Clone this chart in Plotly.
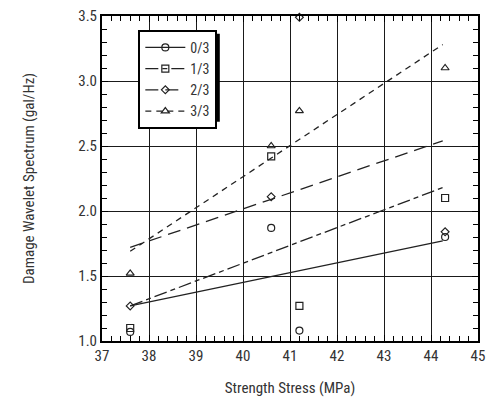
import plotly.graph_objects as go

# ---- data ----
series_names = ["0/3", "1/3", "2/3", "3/3"]
x_points = [37.6, 40.6, 41.2, 44.3]
y_0_3 = [1.07, 1.87, 1.08, 1.80]
y_1_3 = [1.10, 2.42, 1.27, 2.10]
y_2_3 = [1.27, 2.11, 3.49, 1.84]
y_3_3 = [1.52, 2.50, 2.77, 3.10]
fit_x = [37.6, 44.25]
fit_0_3 = [1.27, 1.77]
fit_1_3 = [1.27, 2.18]
fit_2_3 = [1.72, 2.54]
fit_3_3 = [1.69, 3.28]
x_ticks = [37, 38, 39, 40, 41, 42, 43, 44, 45]
y_ticks = [1.0, 1.5, 2.0, 2.5, 3.0, 3.5]

pts = [y_0_3, y_1_3, y_2_3, y_3_3]
fits = [fit_0_3, fit_1_3, fit_2_3, fit_3_3]
dashes = ["solid", "13px,4px,5px,4px", "13px,7px", "6px,5px"]
symbols = ["circle-open", "square-open", "diamond-open", "triangle-up-open"]
sizes = [7, 7, 6, 7]

FONT = "Liberation Sans Narrow, Arial Narrow, Roboto Condensed, Liberation Sans, sans-serif"
INK = "#222"

fig = go.Figure()
for i in range(4):
    fig.add_trace(go.Scatter(x=fit_x, y=fits[i], mode="lines",
                             line=dict(color=INK, width=1.3, dash=dashes[i]),
                             showlegend=False))
    fig.add_trace(go.Scatter(x=x_points, y=pts[i], mode="markers",
                             marker=dict(symbol=symbols[i], size=sizes[i], color=INK,
                                         line=dict(width=1.2, color=INK)),
                             showlegend=False, cliponaxis=False))
    fig.add_trace(go.Scatter(x=[None], y=[None], mode="lines+markers", name=series_names[i],
                             line=dict(color=INK, width=1.3, dash=dashes[i]),
                             marker=dict(symbol=symbols[i], size=sizes[i], color=INK,
                                         line=dict(width=1.2, color=INK))))

axis_common = dict(showline=True, linecolor="black", linewidth=2, mirror="ticks",
                   showgrid=True, gridcolor="#1a1a1a", gridwidth=1.4,
                   ticks="inside", ticklen=6, tickcolor="black", tickwidth=1.2,
                   zeroline=False, tickfont=dict(family=FONT, size=15, color="#333"))

fig.update_xaxes(range=[37, 45], tickvals=x_ticks,
                 minor=dict(dtick=0.2, ticks="inside", ticklen=5, tickcolor="black", showgrid=False),
                 title=dict(text="Strength Stress (MPa)", font=dict(family=FONT, size=15, color="#333"), standoff=18),
                 **axis_common)
fig.update_yaxes(range=[1.0, 3.5], tickvals=y_ticks, tickformat=".1f",
                 minor=dict(dtick=0.1, ticks="inside", ticklen=5, tickcolor="black", showgrid=False),
                 title=dict(text="Damage Wavelet Spectrum (gal/Hz)", font=dict(family=FONT, size=15, color="#333"), standoff=40),
                 **axis_common)

# drop shadow behind the legend box
fig.add_shape(type="rect", xref="paper", yref="paper",
              x0=(143 - 102) / 383, x1=(222 - 102) / 383,
              y0=(344 - 122) / 329, y1=(344 - 33) / 329,
              fillcolor="black", line=dict(width=0), layer="above")

fig.update_layout(
    width=492, height=401,
    margin=dict(l=102, r=7, t=15, b=57),
    paper_bgcolor="white", plot_bgcolor="white",
    legend=dict(x=(139 - 102) / 383, y=(344 - 29) / 329, xanchor="left", yanchor="top",
                bgcolor="white", bordercolor="black", borderwidth=2,
                font=dict(family=FONT, size=14, color="#333"),
                tracegroupgap=0, itemwidth=40),
)
fig.write_html("out.html")
